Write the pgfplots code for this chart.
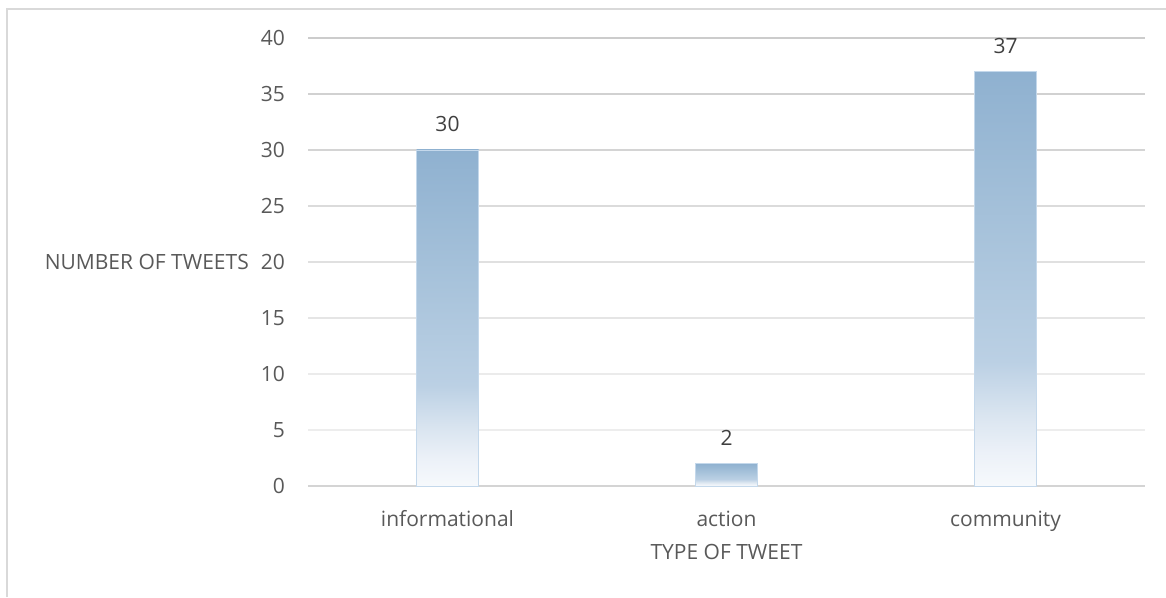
\documentclass[border=0pt]{standalone}
\usepackage{fontspec}
\setmainfont{Open Sans}
\usepackage{pgfplots}
\pgfplotsset{compat=1.18}

\definecolor{txt}{HTML}{595959}
\definecolor{lbl}{HTML}{404040}
\definecolor{frame}{HTML}{D9D9D9}
\definecolor{baredge}{HTML}{C4D8EB}
\definecolor{fadeA}{HTML}{F6F9FC}
\definecolor{fadeB}{HTML}{ECF1F8}
\definecolor{fadeC}{HTML}{DAE5F0}
\definecolor{fadeD}{HTML}{BBD0E4}
\definecolor{fadeE}{HTML}{A8C3DB}
\definecolor{fadeF}{HTML}{8FB1D0}

% vertical fade used for the bars: the middle 50bp spans each bar
\pgfdeclareverticalshading{barfade}{100bp}{%
  color(0bp)=(fadeA); color(25bp)=(fadeA); color(29bp)=(fadeB);
  color(33.5bp)=(fadeC); color(40bp)=(fadeD); color(55bp)=(fadeE);
  color(75bp)=(fadeF); color(100bp)=(fadeF)}

\newcommand{\lblfont}{\fontsize{21}{24}\selectfont}

\begin{document}
\begin{tikzpicture}[x=1pt,y=1pt]
\path[use as bounding box] (0,0) rectangle (1166,597);
% chart frame
\draw[frame, line width=1.5pt] (7,0) -- (7,588) -- (1170,588);

\begin{axis}[
  at={(308pt,111pt)}, anchor=south west,
  scale only axis, width=837pt, height=448pt,
  xmin=-0.5, xmax=2.5, ymin=0, ymax=40,
  axis line style={draw=none},
  major tick length=0pt,
  /pgf/number format/assume math mode=true,
  ytick={0,5,...,40},
  xtick={0,1,2},
  xticklabels={informational,action,community},
  tick label style={font=\lblfont, text=txt},
  y tick label style={anchor=east, inner sep=0pt, xshift=-23pt},
  x tick label style={anchor=base, inner sep=0pt, yshift=-40pt},
  xlabel={TYPE OF TWEET},
  xlabel style={at={(axis description cs:0.5,0)}, anchor=base,
    inner sep=0pt, yshift=-73pt, font=\lblfont, text=txt},
  ylabel={NUMBER OF TWEETS},
  ylabel style={rotate=-90, at={(axis description cs:0,0.5)}, anchor=east,
    inner sep=0pt, xshift=-59pt, font=\lblfont, text=txt},
  ybar, bar width=62pt, bar shift=0pt,
  nodes near coords,
  every node near coord/.append style={anchor=base, inner sep=0pt,
    yshift=18pt, font=\lblfont, text=lbl},
  clip=false,
]
% horizontal grid, darkest at the top
\draw[color=black!20, line width=1.5pt] (axis cs:-0.5,40) -- (axis cs:2.5,40);
\draw[color=black!18, line width=1.5pt] (axis cs:-0.5,35) -- (axis cs:2.5,35);
\draw[color=black!17, line width=1.5pt] (axis cs:-0.5,30) -- (axis cs:2.5,30);
\draw[color=black!14, line width=1.5pt] (axis cs:-0.5,25) -- (axis cs:2.5,25);
\draw[color=black!12, line width=1.5pt] (axis cs:-0.5,20) -- (axis cs:2.5,20);
\draw[color=black!10, line width=1.5pt] (axis cs:-0.5,15) -- (axis cs:2.5,15);
\draw[color=black!8, line width=1.5pt] (axis cs:-0.5,10) -- (axis cs:2.5,10);
\draw[color=black!7, line width=1.5pt] (axis cs:-0.5,5) -- (axis cs:2.5,5);
\draw[color=black!17, line width=1.5pt] (axis cs:-0.5,0) -- (axis cs:2.5,0);
% one plot per category so that each bar carries its own fade
\addplot[draw=baredge, line width=0.4pt, shade, shading=barfade] coordinates {(0,30)};
\addplot[draw=baredge, line width=0.4pt, shade, shading=barfade] coordinates {(1,2)};
\addplot[draw=baredge, line width=0.4pt, shade, shading=barfade] coordinates {(2,37)};
\end{axis}
\end{tikzpicture}
\end{document}
